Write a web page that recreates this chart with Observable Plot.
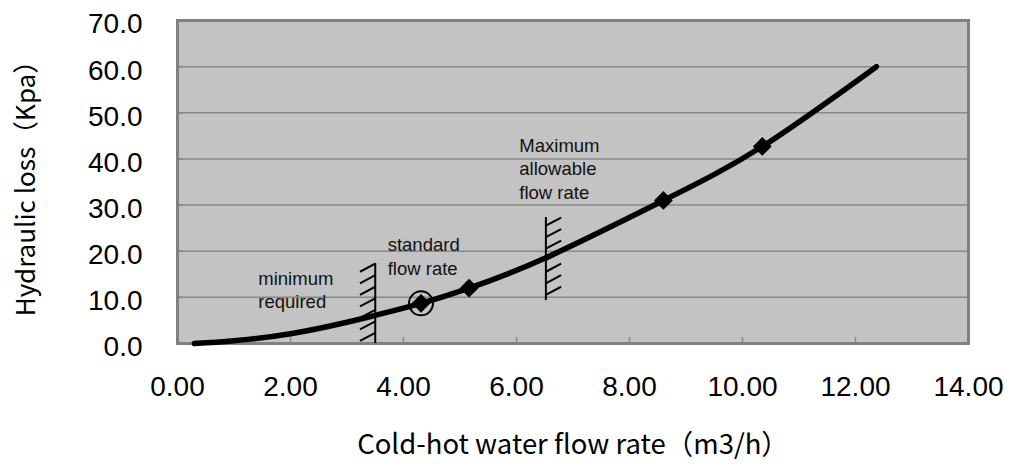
<!DOCTYPE html>
<html><head><meta charset="utf-8">
<script src="https://cdn.jsdelivr.net/npm/d3@7"></script>
<script src="https://cdn.jsdelivr.net/npm/@observablehq/plot@0.6"></script>
<style>body{margin:0;background:#fff}</style>
</head><body><div id="chart"></div>
<script>
// Curve
const curveX = [0.3, 1.0, 2.0, 3.0, 3.5, 4.31, 5.16, 6.52, 8.6, 10.35, 12.37];
const curveY = [0.0, 0.6, 2.1, 4.6, 6.1, 8.7, 12.0, 18.6, 31.0, 42.7, 60.0];
// Measured points (diamonds)
const pointX = [4.31, 5.16, 8.6, 10.35];
const pointY = [8.7, 12.0, 31.0, 42.7];
// Circled standard point
const standardX = [4.31];
const standardY = [8.7];
// Limit lines (minimum required, maximum allowable)
const limitX = [3.5, 6.52];
const limitY1 = [0.0, 9.3];
const limitY2 = [17.3, 27.3];
const limitSide = [-1, 1];
// Annotations
const noteText = ["minimum\nrequired", "standard\nflow rate", "Maximum\nallowable\nflow rate"];
const noteX = [1.43, 3.72, 6.05];
const noteY = [16.4, 23.6, 45.2];
// Ticks
const xTicks = [0, 2, 4, 6, 8, 10, 12, 14];
const yTicks = [0, 10, 20, 30, 40, 50, 60, 70];
const xTitle = "Cold-hot water flow rate（m3/h）";
const yTitle = "Hydraulic loss（Kpa）";

const curve = curveX.map((x, i) => ({x, y: curveY[i]}));
const points = pointX.map((x, i) => ({x, y: pointY[i]}));
const standard = standardX.map((x, i) => ({x, y: standardY[i]}));
const limits = limitX.map((x, i) => ({x, y1: limitY1[i], y2: limitY2[i], side: limitSide[i]}));
const hatchStep = 2.5, hatchDx = 0.27, hatchDy = 1.75;
const hatches = [];
limits.forEach(l => {
  for (let top = l.y2; top - hatchDy >= l.y1 - 0.01; top -= hatchStep) {
    if (l.side < 0) hatches.push({x1: l.x - hatchDx, y1: top - hatchDy, x2: l.x, y2: top});
    else hatches.push({x1: l.x, y1: top - hatchDy, x2: l.x + hatchDx, y2: top});
  }
});
const notes = noteText.map((t, i) => ({t, x: noteX[i], y: noteY[i]}));

const gray = "#888888";
const chart = Plot.plot({
  width: 1010, height: 472,
  marginLeft: 177, marginRight: 42, marginTop: 20, marginBottom: 129,
  style: {fontFamily: "'Liberation Sans', Arial, sans-serif", background: "#fff"},
  x: {domain: [0, 14]},
  y: {domain: [0, 70]},
  marks: [
    Plot.frame({fill: "#c3c3c3"}),
    Plot.gridY(yTicks, {stroke: gray, strokeOpacity: 1, strokeWidth: 1.5}),
    Plot.ruleX(xTicks, {y1: 0, y2: 1.3, stroke: gray, strokeWidth: 1.5}),
    Plot.ruleY(yTicks, {x1: 0, x2: 0.1, stroke: gray, strokeWidth: 1.5}),
    Plot.frame({stroke: "#808080", strokeWidth: 3}),
    Plot.axisX(xTicks, {tickSize: 0, tickPadding: 33, fontSize: 28, tickFormat: d => d.toFixed(2), label: null, fill: "#000"}),
    Plot.axisY(yTicks, {tickSize: 0, tickPadding: 35, fontSize: 28, tickFormat: d => d.toFixed(1), label: null, dy: 4, fill: "#000"}),
    Plot.ruleX(limits, {x: "x", y1: "y1", y2: "y2", stroke: "#000", strokeWidth: 2}),
    Plot.link(hatches, {x1: "x1", y1: "y1", x2: "x2", y2: "y2", stroke: "#000", strokeWidth: 2}),
    Plot.line(curve, {x: "x", y: "y", curve: "natural", stroke: "#000", strokeWidth: 5.5, strokeLinecap: "round"}),
    Plot.dot(points, {x: "x", y: "y", symbol: "diamond2", r: 7.5, fill: "#000", stroke: "#000"}),
    Plot.dot(standard, {x: "x", y: "y", r: 12, fill: "none", stroke: "#000", strokeWidth: 2}),
    Plot.text(notes, {x: "x", y: "y", text: "t", textAnchor: "start", lineAnchor: "top", lineHeight: 1.27, fontSize: 18.5, fill: "#111"}),
    Plot.text([xTitle], {frameAnchor: "bottom", dy: 110, fontSize: 27.5, fontFamily: "'Noto Sans CJK JP', sans-serif", fill: "#000"}),
    Plot.text([yTitle], {frameAnchor: "left", textAnchor: "middle", dx: -151, rotate: -90, fontSize: 26, fontFamily: "'Noto Sans CJK JP', sans-serif", fill: "#000"})
  ]
});
document.getElementById("chart").appendChild(chart);
</script></body></html>
